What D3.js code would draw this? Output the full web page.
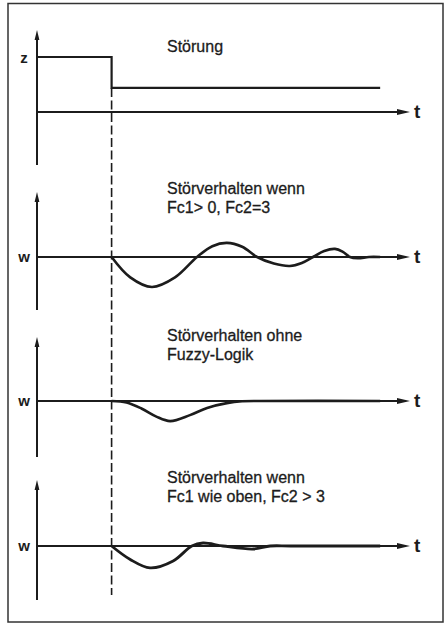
<!DOCTYPE html>
<html>
<head>
<meta charset="utf-8">
<script src="https://cdn.jsdelivr.net/npm/d3@7"></script>
<style>
  html, body { margin: 0; padding: 0; background: #fff; }
  svg { display: block; }
  text { font-family: "Liberation Sans", Arial, Helvetica, sans-serif; fill: #1c1c1c; }
</style>
</head>
<body>
<script>
// ---------- data ----------
const panelTitles = [
  ["Störung"],
  ["Störverhalten wenn", "Fc1> 0, Fc2=3"],
  ["Störverhalten ohne", "Fuzzy-Logik"],
  ["Störverhalten wenn", "Fc1 wie oben, Fc2 > 3"]
];
const axisLabels = ["z", "w", "w", "w"];
const timeLabel = "t";
const disturbanceTime = 2;

// panel 1: disturbance step
const stepT = [0, 2, 2, 9.2];
const stepZ = [1, 1, 0.44, 0.44];

// panel 2: Fc1 > 0, Fc2 = 3
const fc3T = [2.0, 2.5, 3.08, 3.7, 4.29, 4.7, 5.09, 5.5, 5.9, 6.35, 6.78, 7.1, 7.4, 7.7, 7.99, 8.2, 8.39, 8.6, 8.9, 9.2];
const fc3W = [0, -0.68, -1.0, -0.68, 0, 0.36, 0.47, 0.34, 0, -0.22, -0.3, -0.2, 0, 0.2, 0.27, 0.17, 0, -0.04, 0, 0];

// panel 3: without fuzzy logic
const noFuzzyT = [2.0, 2.4, 2.8, 3.2, 3.57, 4.1, 4.56, 5.09, 5.5, 6.0, 9.2];
const noFuzzyW = [0, -0.05, -0.25, -0.52, -0.67, -0.47, -0.23, -0.07, -0.01, 0, 0];

// panel 4: Fc1 as above, Fc2 > 3
const fcGt3T = [2.0, 2.5, 3.03, 3.65, 4.15, 4.45, 4.99, 5.8, 6.25, 6.8, 9.2];
const fcGt3W = [0, -0.45, -0.73, -0.5, 0, 0.1, 0, -0.1, 0, 0, 0];

// ---------- layout ----------
const W = 446, H = 624;
const ink = "#1c1c1c";
const x = d3.scaleLinear().domain([0, 10]).range([37, 410]);
const smooth = d3.curveCatmullRom.alpha(0.5);

const panels = [
  { zeroY: 112, unit: 55, top: 30, bottom: 165, titleY: 52, t: stepT, v: stepZ, curve: d3.curveLinear, sw: 2.2 },
  { zeroY: 257, unit: 30, top: 192, bottom: 310, titleY: 194, t: fc3T, v: fc3W, curve: smooth, sw: 2.6 },
  { zeroY: 401, unit: 30, top: 337, bottom: 457, titleY: 341, t: noFuzzyT, v: noFuzzyW, curve: smooth, sw: 2.6 },
  { zeroY: 546, unit: 30, top: 480, bottom: 600, titleY: 483, t: fcGt3T, v: fcGt3W, curve: smooth, sw: 2.8 }
];

const svg = d3.select("body").append("svg").attr("width", W).attr("height", H);

// frame
svg.append("rect").attr("x", 8).attr("y", 3.5).attr("width", 435).attr("height", 618.5)
  .attr("fill", "none").attr("stroke", "#333").attr("stroke-width", 1.5);

// dashed disturbance line
svg.append("line")
  .attr("x1", x(disturbanceTime)).attr("x2", x(disturbanceTime))
  .attr("y1", 88).attr("y2", 595)
  .attr("stroke", ink).attr("stroke-width", 1.6).attr("stroke-dasharray", "9,3.5");

panels.forEach((p, i) => {
  const y = d3.scaleLinear().domain([-1, 1]).range([p.zeroY + p.unit, p.zeroY - p.unit]);
  const g = svg.append("g");

  // vertical axis
  g.append("line").attr("x1", x(0)).attr("x2", x(0)).attr("y1", p.top + 6).attr("y2", p.bottom)
    .attr("stroke", ink).attr("stroke-width", 2);
  g.append("path")
    .attr("d", `M${x(0)},${p.top} L${x(0) + 2.4},${p.top + 10} L${x(0) - 2.4},${p.top + 10} Z`)
    .attr("fill", ink);

  // time axis
  g.append("line").attr("x1", x(0)).attr("x2", x(10) - 8).attr("y1", y(0)).attr("y2", y(0))
    .attr("stroke", ink).attr("stroke-width", 2);
  g.append("path")
    .attr("d", `M${x(10)},${y(0)} L${x(10) - 13},${y(0) - 3} L${x(10) - 13},${y(0) + 3} Z`)
    .attr("fill", ink);
  g.append("text").attr("x", x(10) + 4).attr("y", y(0) + 6)
    .attr("font-size", 19).attr("font-weight", "bold").text(timeLabel);

  // axis label
  const lblY = i === 0 ? y(stepZ[0]) + 6 : y(0) + 5;
  g.append("text").attr("x", 24).attr("y", lblY).attr("text-anchor", "middle")
    .attr("font-size", 15).attr("font-weight", "bold").text(axisLabels[i]);

  // title
  panelTitles[i].forEach((line, k) => {
    g.append("text").attr("x", 167).attr("y", p.titleY + k * 18.5)
      .attr("font-size", 16).attr("stroke", ink).attr("stroke-width", 0.3).text(line);
  });

  // curve
  const data = p.t.map((tv, k) => [tv, p.v[k]]);
  g.append("path").datum(data)
    .attr("d", d3.line().x(d => x(d[0])).y(d => y(d[1])).curve(p.curve))
    .attr("fill", "none").attr("stroke", ink).attr("stroke-width", p.sw)
    .attr("stroke-linejoin", "miter");
});
</script>
</body>
</html>
